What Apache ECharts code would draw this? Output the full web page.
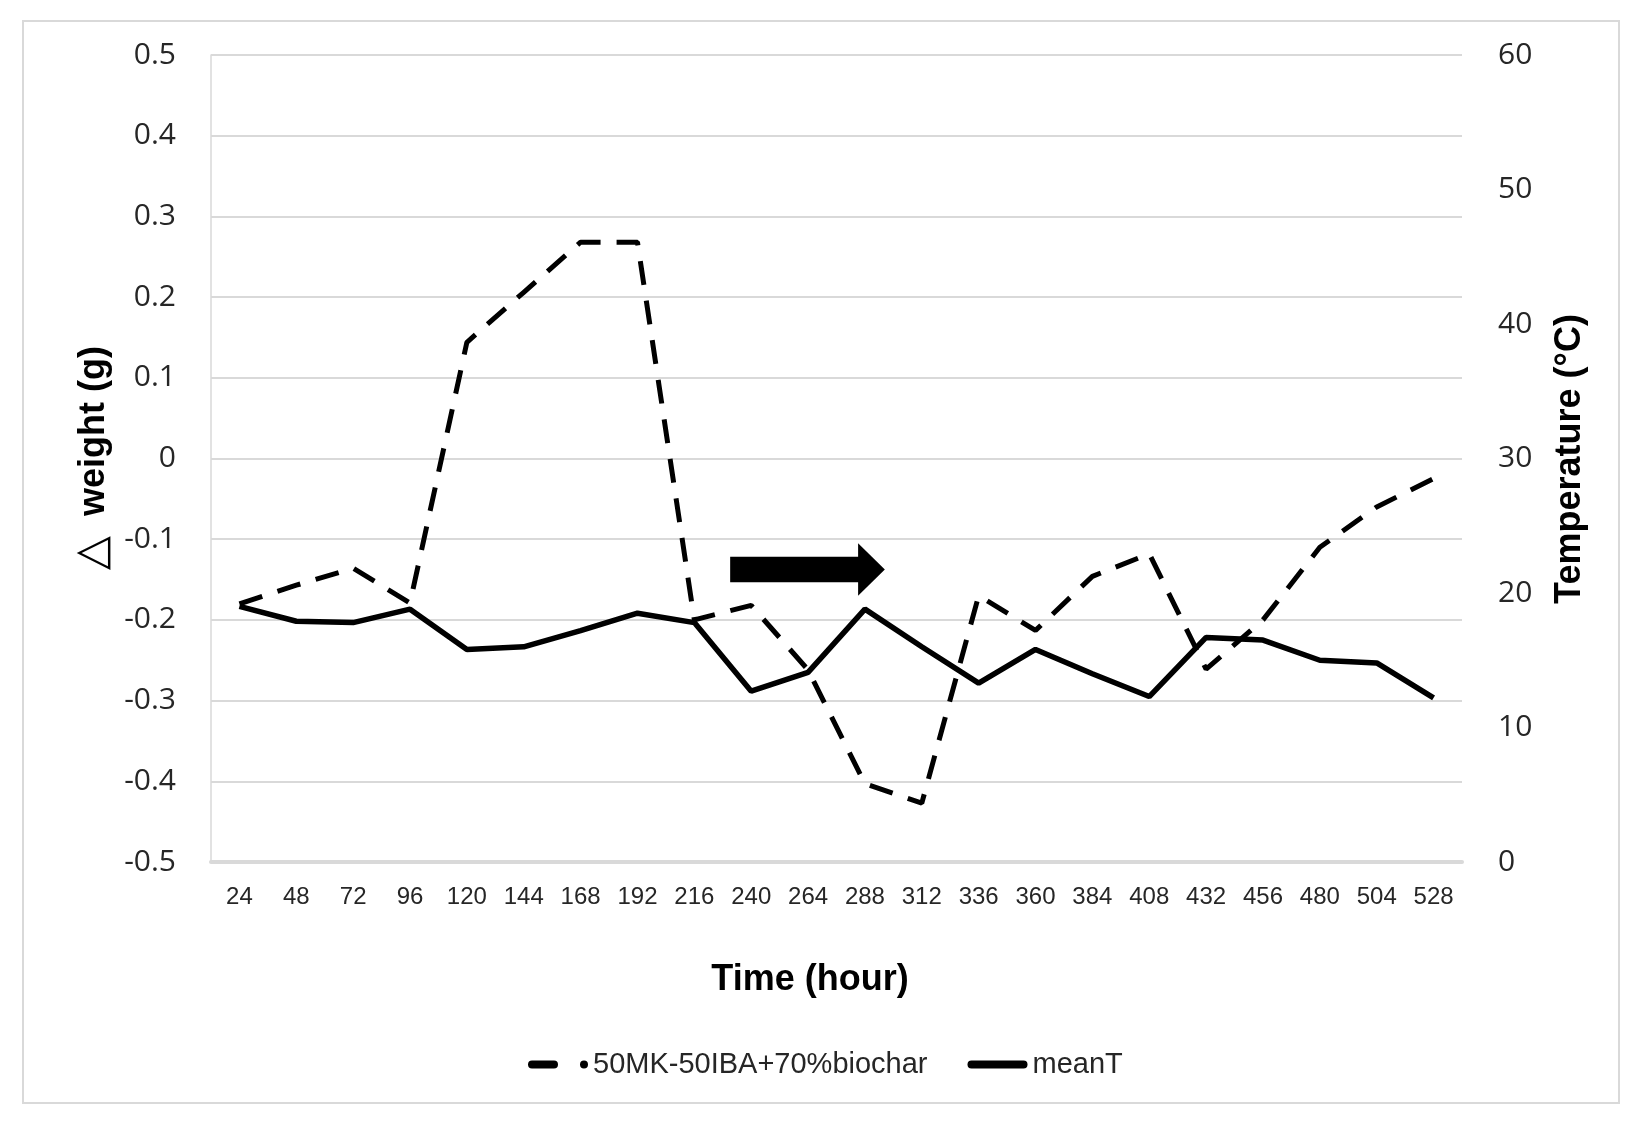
<!DOCTYPE html>
<html><head><meta charset="utf-8">
<script src="https://cdn.jsdelivr.net/npm/echarts@6/dist/echarts.min.js"></script>
<style>html,body{margin:0;padding:0;background:#fff}#c{width:1640px;height:1124px}</style>
</head><body><div id="c"></div>
<script>
// ---- data ----
const hours = ['24','48','72','96','120','144','168','192','216','240','264','288','312','336','360','384','408','432','456','480','504','528'];
const weightDelta = [-0.180, -0.157, -0.136, -0.179, 0.144, 0.206, 0.268, 0.268, -0.200, -0.182, -0.262, -0.403, -0.427, -0.170, -0.213, -0.146, -0.118, -0.261, -0.200, -0.110, -0.060, -0.025];
const meanT = [19.0, 17.9, 17.8, 18.8, 15.8, 16.0, 17.2, 18.5, 17.8, 12.7, 14.1, 18.8, 16.0, 13.3, 15.8, 14.0, 12.3, 16.7, 16.5, 15.0, 14.8, 12.2];
const seriesNames = ['50MK-50IBA+70%biochar', 'meanT'];
const weightAxisTicks = { min: -0.5, max: 0.5, interval: 0.1 };
const tempAxisTicks = { min: 0, max: 60, interval: 10 };
const titles = { x: 'Time (hour)', yLeftSymbol: '\u25B3', yLeft: 'weight (g)', yRight: 'Temperature (\u00B0C)' };

// arrow annotation (in axis units: category index, weight value)
const arrowSpec = { startIdx: 8.63, headIdx: 10.88, tipIdx: 11.35, yCenter: -0.1375, bodyHalf: 0.0159, headHalf: 0.0325 };

const chart = echarts.init(document.getElementById('c'), null, { renderer: 'canvas' });
const txtColor = '#262626';
const gridColor = '#d9d9d9';

const baseGraphics = [
  { type: 'rect', shape: { x: 23, y: 21, width: 1596, height: 1082 }, style: { fill: 'none', stroke: gridColor, lineWidth: 2 }, silent: true, z: -10 },
  { type: 'text', x: 810, y: 980, style: { text: titles.x, font: 'bold 36px "Liberation Sans"', fill: '#000', textAlign: 'center', textVerticalAlign: 'middle' } },
  { type: 'text', x: 94, y: 458, rotation: Math.PI / 2,
    style: { text: '{t|' + titles.yLeftSymbol + '}  ' + titles.yLeft, font: 'bold 36px "Liberation Sans"', fill: '#000', textAlign: 'center', textVerticalAlign: 'middle',
      rich: { t: { fontFamily: 'DejaVu Sans', fontWeight: 'normal', fontSize: 44, fill: '#000' } } } },
  { type: 'text', x: 1570, y: 459, rotation: Math.PI / 2, style: { text: titles.yRight, font: 'bold 36px "Liberation Sans"', fill: '#000', textAlign: 'center', textVerticalAlign: 'middle' } }
];

chart.setOption({
  animation: false,
  backgroundColor: '#fff',
  grid: { left: 211, right: 178, top: 55, bottom: 262, containLabel: false },
  xAxis: {
    type: 'category', data: hours, boundaryGap: true,
    axisLine: { show: true, onZero: false, lineStyle: { color: gridColor, width: 4 } },
    axisTick: { show: false },
    axisLabel: { interval: 0, margin: 23, fontFamily: 'Liberation Sans', fontSize: 24, color: txtColor },
    splitLine: { show: false }
  },
  yAxis: [
    {
      type: 'value', position: 'left', min: weightAxisTicks.min, max: weightAxisTicks.max, interval: weightAxisTicks.interval,
      axisLine: { show: true, onZero: false, lineStyle: { color: gridColor, width: 1.5 } },
      axisTick: { show: false },
      axisLabel: { margin: 35, fontFamily: 'Open Sans', fontSize: 30, color: txtColor, formatter: v => String(Math.round(v * 10) / 10) },
      splitLine: { show: true, lineStyle: { color: gridColor, width: 2 } }
    },
    {
      type: 'value', position: 'right', min: tempAxisTicks.min, max: tempAxisTicks.max, interval: tempAxisTicks.interval,
      axisLine: { show: false }, axisTick: { show: false },
      axisLabel: { margin: 36, fontFamily: 'Open Sans', fontSize: 30, color: txtColor },
      splitLine: { show: false }
    }
  ],
  legend: {
    left: 523, top: 1045, itemWidth: 60, itemHeight: 8, itemGap: 40,
    textStyle: { fontFamily: 'Liberation Sans', fontSize: 29, color: txtColor },
    data: [
      { name: seriesNames[0], icon: 'path://M4,0H26A4,4 0 0 1 26,8H4A4,4 0 0 1 4,0Z M56,0A4,4 0 1 1 56,8A4,4 0 1 1 56,0Z' },
      { name: seriesNames[1], icon: 'path://M4,0H56A4,4 0 0 1 56,8H4A4,4 0 0 1 4,0Z' }
    ]
  },
  series: [
    { name: seriesNames[0], type: 'line', yAxisIndex: 0, data: weightDelta, symbol: 'none', color: '#000',
      lineStyle: { color: '#000', width: 5, type: [24, 16] }, z: 3 },
    { name: seriesNames[1], type: 'line', yAxisIndex: 1, data: meanT, symbol: 'none', color: '#000',
      lineStyle: { color: '#000', width: 5.5, type: 'solid' }, z: 4 }
  ],
  graphic: baseGraphics
});

function px(idx, val) {
  const i0 = Math.floor(idx), f = idx - i0;
  const a = chart.convertToPixel({ xAxisIndex: 0, yAxisIndex: 0 }, [i0, val]);
  const b = chart.convertToPixel({ xAxisIndex: 0, yAxisIndex: 0 }, [i0 + 1, val]);
  return [a[0] + (b[0] - a[0]) * f, a[1]];
}
const A = arrowSpec;
const pts = [
  px(A.startIdx, A.yCenter + A.bodyHalf),
  px(A.headIdx, A.yCenter + A.bodyHalf),
  px(A.headIdx, A.yCenter + A.headHalf),
  px(A.tipIdx, A.yCenter),
  px(A.headIdx, A.yCenter - A.headHalf),
  px(A.headIdx, A.yCenter - A.bodyHalf),
  px(A.startIdx, A.yCenter - A.bodyHalf)
];
chart.setOption({
  graphic: baseGraphics.concat([{ type: 'polygon', shape: { points: pts }, style: { fill: '#000' }, z: 10 }])
});
</script>
</body></html>
